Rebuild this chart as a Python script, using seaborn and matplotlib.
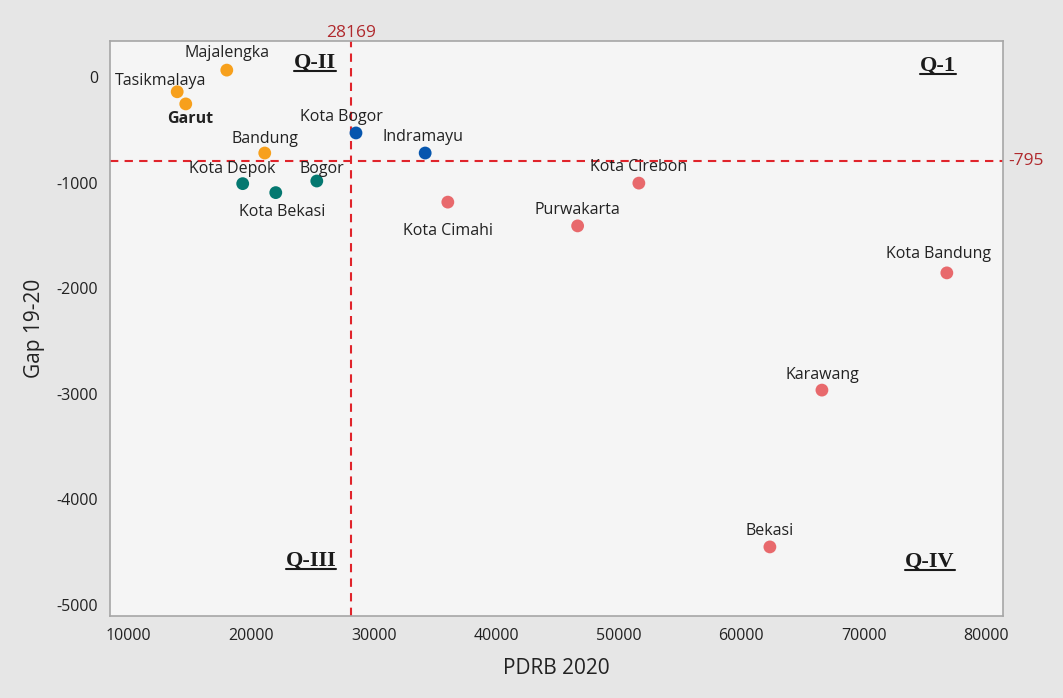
import pandas as pd
import numpy as np
import matplotlib
matplotlib.use("Agg")
import matplotlib.pyplot as plt
import seaborn as sns
from matplotlib.lines import Line2D

# data
wilayah = ["Majalengka", "Tasikmalaya", "Garut", "Bandung",
           "Kota Depok", "Kota Bekasi", "Bogor",
           "Kota Bogor", "Indramayu",
           "Kota Cimahi", "Purwakarta", "Kota Cirebon", "Kota Bandung",
           "Karawang", "Bekasi"]
pdrb_2020 = [18000, 13950, 14650, 21100,
             19300, 22000, 25350,
             28550, 34200,
             36050, 46650, 51650, 76800,
             66600, 62350]
gap_19_20 = [65, -140, -255, -720,
             -1010, -1095, -985,
             -530, -720,
             -1185, -1410, -1005, -1855,
             -2965, -4450]
kelompok = ["A", "A", "A", "A",
            "B", "B", "B",
            "C", "C",
            "D", "D", "D", "D",
            "D", "D"]
rata_pdrb = 28169
rata_gap = -795

warna = {"A": "#F7A01C", "B": "#047870", "C": "#0656AE", "D": "#E8696C"}

# label offsets in pixels (dx, dy)
label_pos = {
    "Majalengka": (0, 17),
    "Tasikmalaya": (-17, 11),
    "Garut": (4, -15),
    "Bandung": (0, 14),
    "Kota Depok": (-11, 15),
    "Kota Bekasi": (6, -19),
    "Bogor": (5, 12),
    "Kota Bogor": (-15, 16),
    "Indramayu": (-2, 16),
    "Kota Cimahi": (0, -29),
    "Purwakarta": (0, 16),
    "Kota Cirebon": (0, 16),
    "Kota Bandung": (-8, 19),
    "Karawang": (0, 15),
    "Bekasi": (0, 16),
}

df = pd.DataFrame({"wilayah": wilayah, "PDRB 2020": pdrb_2020,
                   "Gap 19-20": gap_19_20, "kelompok": kelompok})

sns.set_style("white")
plt.rcParams['font.family'] = ['Open Sans', 'DejaVu Sans']
plt.rcParams['axes.unicode_minus'] = False

fig = plt.figure(figsize=(10.63, 6.98), dpi=100, facecolor="#E6E6E6")
ax = fig.add_axes([0.1035, 0.1175, 0.8401, 0.8238])
ax.set_facecolor("#F5F5F5")

sns.scatterplot(data=df, x="PDRB 2020", y="Gap 19-20", hue="kelompok",
                palette=warna, s=85, edgecolor="none", legend=False, ax=ax,
                zorder=3)

for nama, xv, yv in zip(wilayah, pdrb_2020, gap_19_20):
    dx, dy = label_pos[nama]
    ax.annotate(nama, (xv, yv), xytext=(dx, dy), textcoords="offset pixels",
                ha="center", va="center", fontsize=11.5, color="#222222",
                fontweight="bold" if nama == "Garut" else "normal", zorder=4)

ax.axvline(rata_pdrb, color="#E0242B", ls=(0, (4, 3)), lw=1.5, zorder=2)
ax.axhline(rata_gap, color="#E0242B", ls=(0, (4, 3)), lw=1.5, zorder=2)

ax.set_xlim(8465, 81390)
ax.set_ylim(-5104, 341)
ax.set_xticks(np.arange(10000, 80001, 10000))
ax.set_yticks(np.arange(-5000, 1, 1000))
ax.tick_params(axis="both", direction="out", length=5, width=1,
               color="#A0A0A0", labelsize=11.5, labelcolor="#222222")
for sp in ax.spines.values():
    sp.set_color("#A6A6A6")
    sp.set_linewidth(1.2)

ax.set_xlabel("PDRB 2020", fontsize=15, color="#222222", labelpad=10)
ax.set_ylabel("Gap 19-20", fontsize=15, color="#222222", labelpad=8)

# reference values
ax.text(rata_pdrb, 341, str(rata_pdrb), transform=ax.transData,
        ha="center", va="bottom", fontsize=12.5, color="#B0292D")
ax.annotate(str(rata_gap), (1.0, rata_gap), xycoords=("axes fraction", "data"),
            xytext=(5, 0), textcoords="offset pixels", ha="left", va="center",
            fontsize=12.5, color="#B0292D")

# quadrant labels
kuadran = [("Q-II", 0.2296, 0.9617), ("Q-1", 0.9272, 0.9565),
           ("Q-III", 0.2251, 0.0957), ("Q-IV", 0.9183, 0.0939)]
teks_q = []
for lab, qx, qy in kuadran:
    t = ax.text(qx, qy, lab, transform=ax.transAxes, ha="center", va="center",
                fontsize=16, fontweight="bold", color="#1A1A1A",
                family="Liberation Serif")
    teks_q.append(t)

fig.canvas.draw()
inv = fig.transFigure.inverted()
for t in teks_q:
    bb = t.get_window_extent()
    (x0, y0), (x1, _) = inv.transform([(bb.x0, bb.y0 + 2), (bb.x1, bb.y0 + 2)])
    fig.add_artist(Line2D([x0, x1], [y0, y0], color="#1A1A1A", lw=1.5,
                          transform=fig.transFigure))

fig.savefig("out.png", dpi=100, facecolor=fig.get_facecolor())
